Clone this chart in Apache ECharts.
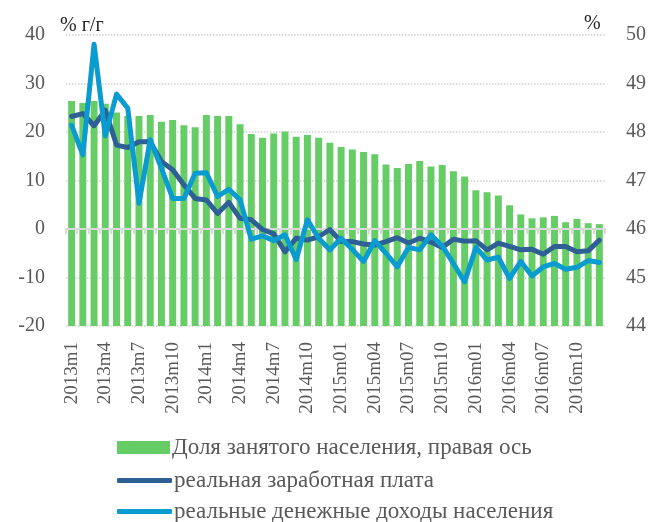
<!DOCTYPE html>
<html>
<head>
<meta charset="utf-8">
<script src="https://cdn.jsdelivr.net/npm/echarts@6/dist/echarts.min.js"></script>
<style>
  html, body { margin: 0; padding: 0; background: #fff; }
  #chart { width: 649px; height: 522px; }
</style>
</head>
<body>
<div id="chart"></div>
<script>
// месяцы
var months = [
  "2013m1", "2013m2", "2013m3", "2013m4", "2013m5", "2013m6", "2013m7", "2013m8", "2013m9", "2013m10", "2013m11", "2013m12",
  "2014m1", "2014m2", "2014m3", "2014m4", "2014m5", "2014m6", "2014m7", "2014m8", "2014m9", "2014m10", "2014m11", "2014m12",
  "2015m01", "2015m02", "2015m03", "2015m04", "2015m05", "2015m06", "2015m07", "2015m08", "2015m09", "2015m10", "2015m11", "2015m12",
  "2016m01", "2016m02", "2016m03", "2016m04", "2016m05", "2016m06", "2016m07", "2016m08", "2016m09", "2016m10", "2016m11", "2016m12"
];
// доля занятого населения, % (правая ось)
var employed = [
  48.64, 48.60, 48.64, 48.58, 48.40, 48.33, 48.33, 48.35, 48.21, 48.25, 48.14, 48.10,
  48.35, 48.33, 48.33, 48.16, 47.96, 47.88, 47.97, 48.01, 47.90, 47.94, 47.88, 47.78,
  47.69, 47.64, 47.59, 47.54, 47.33, 47.26, 47.34, 47.40, 47.29, 47.32, 47.19, 47.08,
  46.80, 46.76, 46.69, 46.49, 46.30, 46.22, 46.24, 46.27, 46.14, 46.21, 46.12, 46.10
];
// реальная заработная плата, % г/г
var wage = [
  23.2, 23.8, 21.3, 24.5, 17.3, 16.8, 18.0, 18.0, 13.9, 12.2, 9.1, 6.3,
  6.0, 3.2, 5.5, 2.2, 1.9, -0.1, -1.0, -4.7, -1.9, -2.3, -1.6, -0.1,
  -2.6, -2.6, -3.1, -3.3, -2.6, -1.8, -2.9, -1.9, -2.7, -3.8, -2.1, -2.5,
  -2.4, -4.3, -2.9, -3.6, -4.3, -4.2, -5.2, -3.6, -3.6, -4.7, -4.5, -2.3
];
// реальные денежные доходы населения, % г/г
var income = [
  21.4, 15.3, 38.1, 19.2, 27.8, 24.9, 5.3, 18.4, 12.5, 6.3, 6.3, 11.5,
  11.6, 6.7, 8.2, 6.0, -2.1, -1.4, -2.4, -1.2, -6.3, 1.9, -1.9, -4.3,
  -1.9, -4.2, -6.7, -2.4, -5.0, -7.8, -3.8, -4.3, -1.2, -3.5, -7.1, -10.9,
  -3.8, -6.4, -5.8, -10.2, -6.7, -9.7, -7.8, -7.1, -8.3, -7.9, -6.5, -6.9
];

var names = [
  "Доля занятого населения, правая ось",
  "реальная заработная плата",
  "реальные денежные доходы населения"
];
var colors = ["#66cc66", "#2e6096", "#0a9bd0"];

var font = "'Liberation Serif', 'DejaVu Serif', serif";
var grey = "#595959";

// одна легенда на строку
function legendRow(name, top, w, h, icon) {
  return {
    data: [{ name: name, icon: icon }],
    left: 117,
    top: top,
    padding: 0,
    itemWidth: w,
    itemHeight: h,
    itemGap: 0,
    textStyle: { color: grey, fontSize: 23, fontFamily: font, padding: [0, 0, 0, -3] }
  };
}

var myChart = echarts.init(document.getElementById("chart"));
var option = {
  animation: false,
  textStyle: { fontFamily: font },
  grid: { left: 66, right: 44, top: 35, bottom: 196 },
  graphic: [
    { type: "text", left: 60, top: 16, style: { text: "% г/г", font: "20px " + font, fill: "#262626" } },
    { type: "text", left: 584, top: 14, style: { text: "%", font: "20px " + font, fill: "#262626" } }
  ],
  legend: [
    legendRow(names[0], 436, 53, 13, "rect"),
    legendRow(names[1], 469, 55, 5, "roundRect"),
    legendRow(names[2], 500, 55, 5, "roundRect")
  ],
  xAxis: [
    {
      type: "category",
      data: months,
      position: "bottom",
      axisLine: { show: false, onZero: false },
      axisTick: { show: false },
      axisLabel: {
        interval: 2,
        rotate: 90,
        margin: 16,
        color: grey,
        fontSize: 19,
        fontFamily: font
      }
    },
    {
      type: "category",
      data: months,
      position: "bottom",
      z: 3,
      axisLine: { onZero: true, lineStyle: { color: "#d9d9d9", width: 2 } },
      axisTick: { show: true, interval: 0, length: 5, lineStyle: { color: "#d9d9d9", width: 2 } },
      axisLabel: { show: false }
    }
  ],
  yAxis: [
    {
      type: "value",
      min: -20,
      max: 40,
      interval: 10,
      axisLine: { show: false },
      axisTick: { show: false },
      axisLabel: { margin: 21, color: grey, fontSize: 20, fontFamily: font },
      splitLine: { lineStyle: { color: "#d0d0d0", type: "dotted", width: 1.5 } }
    },
    {
      type: "value",
      min: 44,
      max: 50,
      interval: 1,
      axisLine: { show: false },
      axisTick: { show: false },
      axisLabel: { margin: 21, color: grey, fontSize: 20, fontFamily: font },
      splitLine: { show: false }
    }
  ],
  series: [
    {
      name: names[0],
      type: "bar",
      yAxisIndex: 1,
      barCategoryGap: "38%",
      itemStyle: { color: colors[0] },
      data: employed
    },
    {
      name: names[1],
      type: "line",
      z: 4,
      symbol: "none",
      lineStyle: { color: colors[1], width: 5, cap: "round", join: "round" },
      itemStyle: { color: colors[1] },
      data: wage
    },
    {
      name: names[2],
      type: "line",
      z: 5,
      symbol: "none",
      lineStyle: { color: colors[2], width: 5, cap: "round", join: "round" },
      itemStyle: { color: colors[2] },
      data: income
    }
  ]
};
option && myChart.setOption(option);
</script>
</body>
</html>
